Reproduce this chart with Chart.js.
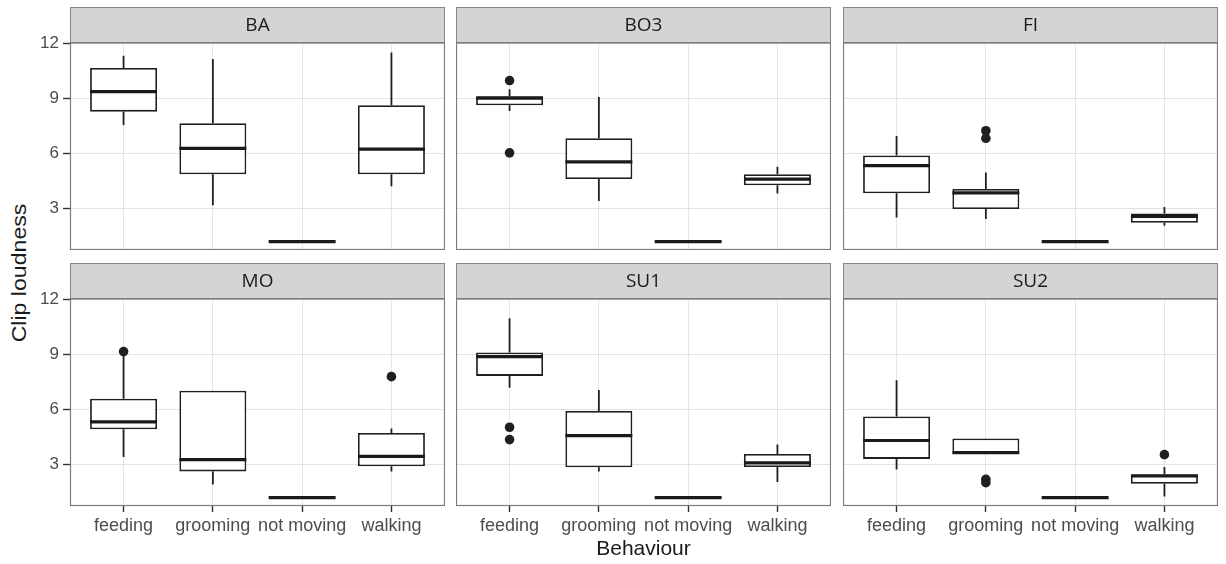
<!DOCTYPE html>
<html>
<head>
<meta charset="utf-8">
<script src="https://cdn.jsdelivr.net/npm/chart.js@4.4.1/dist/chart.umd.min.js"></script>
<style>
html,body{margin:0;padding:0;background:#fff;}
body{width:1226px;height:564px;position:relative;overflow:hidden;font-family:"Liberation Sans",Arial,sans-serif;}
.panel{position:absolute;}
.panel canvas{display:block;}
#ylab{position:absolute;left:19px;top:273px;transform:translate(-50%,-50%) rotate(-90deg) scaleX(1.1);font-size:21px;color:#1a1a1a;white-space:nowrap;}
</style>
</head>
<body>
<div id="ylab">Clip loudness</div>
<div class="panel" id="p0"><canvas id="c0"></canvas></div>
<div class="panel" id="p1"><canvas id="c1"></canvas></div>
<div class="panel" id="p2"><canvas id="c2"></canvas></div>
<div class="panel" id="p3"><canvas id="c3"></canvas></div>
<div class="panel" id="p4"><canvas id="c4"></canvas></div>
<div class="panel" id="p5"><canvas id="c5"></canvas></div>
<script>
// ---------- data ----------
const categories = ['feeding', 'grooming', 'not moving', 'walking'];
const panelNames = ['BA', 'BO3', 'FI', 'MO', 'SU1', 'SU2'];
const yMajorTicks = [3, 6, 9, 12];
const yMinorTicks = [1.5, 4.5, 7.5, 10.5];
const xAxisTitle = 'Behaviour';

// BA
const baLow  = [7.54, 3.18, 1.2, 4.21];
const baQ1   = [8.27, 4.87, 1.2, 4.87];
const baMed  = [9.36, 6.27, 1.2, 6.23];
const baQ3   = [10.64, 7.64, 1.2, 8.62];
const baHigh = [11.31, 11.13, 1.2, 11.49];
const baOut  = [[], [], [], []];
// BO3
const bo3Low  = [8.31, 3.41, 1.2, 3.82];
const bo3Q1   = [8.62, 4.61, 1.2, 4.27];
const bo3Med  = [9.0, 5.54, 1.2, 4.6];
const bo3Q3   = [9.11, 6.82, 1.2, 4.87];
const bo3High = [9.49, 9.07, 1.2, 5.27];
const bo3Out  = [[9.96, 6.03], [], [], []];
// FI
const fiLow  = [2.51, 2.43, 1.2, 2.07];
const fiQ1   = [3.83, 2.98, 1.2, 2.23];
const fiMed  = [5.34, 3.85, 1.2, 2.58];
const fiQ3   = [5.89, 4.07, 1.2, 2.73];
const fiHigh = [6.94, 4.96, 1.2, 3.09];
const fiOut  = [[], [7.23, 6.82], [], []];
// MO
const moLow  = [3.41, 1.92, 1.2, 2.63];
const moQ1   = [4.92, 2.63, 1.2, 2.91];
const moMed  = [5.32, 3.27, 1.2, 3.45];
const moQ3   = [6.58, 7.01, 1.2, 4.72];
const moHigh = [8.9, 7.01, 1.2, 4.96];
const moOut  = [[9.14], [], [], [7.78]];
// SU1
const su1Low  = [7.18, 2.63, 1.2, 2.05];
const su1Q1   = [7.82, 2.86, 1.2, 2.87];
const su1Med  = [8.87, 4.57, 1.2, 3.09];
const su1Q3   = [9.09, 5.91, 1.2, 3.58];
const su1High = [10.96, 7.05, 1.2, 4.09];
const su1Out  = [[5.03, 4.36], [], [], []];
// SU2
const su2Low  = [2.73, 3.6, 1.2, 1.27];
const su2Q1   = [3.31, 3.6, 1.2, 1.96];
const su2Med  = [4.31, 3.65, 1.2, 2.38];
const su2Q3   = [5.62, 4.42, 1.2, 2.47];
const su2High = [7.58, 4.42, 1.2, 2.87];
const su2Out  = [[], [2.2, 2.02], [], [3.54]];

const panelData = [
  {low: baLow,  q1: baQ1,  med: baMed,  q3: baQ3,  high: baHigh,  out: baOut},
  {low: bo3Low, q1: bo3Q1, med: bo3Med, q3: bo3Q3, high: bo3High, out: bo3Out},
  {low: fiLow,  q1: fiQ1,  med: fiMed,  q3: fiQ3,  high: fiHigh,  out: fiOut},
  {low: moLow,  q1: moQ1,  med: moMed,  q3: moQ3,  high: moHigh,  out: moOut},
  {low: su1Low, q1: su1Q1, med: su1Med, q3: su1Q3, high: su1High, out: su1Out},
  {low: su2Low, q1: su2Q1, med: su2Med, q3: su2Q3, high: su2High, out: su2Out}
];

// ---------- layout ----------
const colLeft = [0, 456, 843];
const colWidth = [445, 375, 375];
const yAxisWidth = [70, 0, 0];
const rowTop = [7, 263];
const rowHeight = [243, 301];
const xAxisHeight = [0, 58];

Chart.defaults.font.family = '"Liberation Sans", Arial, sans-serif';
Chart.defaults.devicePixelRatio = 1;

const stripPlugin = {
  id: 'strip',
  beforeDraw(chart) {
    const tb = chart.titleBlock;
    if (!tb) return;
    const ctx = chart.ctx;
    ctx.save();
    ctx.fillStyle = '#d4d4d4';
    ctx.fillRect(tb.left, tb.top, tb.width, tb.height);
    ctx.strokeStyle = '#858585';
    ctx.lineWidth = 1;
    ctx.strokeRect(tb.left + 0.5, tb.top + 0.5, tb.width - 1, tb.height - 1);
    ctx.restore();
  }
};

const boxPlugin = {
  id: 'boxparts',
  beforeDatasetsDraw(chart) {
    const d = chart.config.options.plugins.boxparts.data;
    const meta = chart.getDatasetMeta(0);
    const y = chart.scales.y;
    const ctx = chart.ctx;
    ctx.save();
    ctx.strokeStyle = '#1f1f1f';
    ctx.lineWidth = 1.8;
    meta.data.forEach((el, i) => {
      const x = el.x;
      ctx.beginPath();
      ctx.moveTo(x, y.getPixelForValue(d.low[i]));
      ctx.lineTo(x, y.getPixelForValue(d.q1[i]));
      ctx.moveTo(x, y.getPixelForValue(d.q3[i]));
      ctx.lineTo(x, y.getPixelForValue(d.high[i]));
      ctx.stroke();
    });
    ctx.restore();
  },
  afterDatasetsDraw(chart) {
    const d = chart.config.options.plugins.boxparts.data;
    const meta = chart.getDatasetMeta(0);
    const y = chart.scales.y;
    const ctx = chart.ctx;
    ctx.save();
    ctx.strokeStyle = '#1a1a1a';
    ctx.lineWidth = 3.2;
    meta.data.forEach((el, i) => {
      const yy = y.getPixelForValue(d.med[i]);
      ctx.beginPath();
      ctx.moveTo(el.x - el.width / 2, yy);
      ctx.lineTo(el.x + el.width / 2, yy);
      ctx.stroke();
    });
    ctx.restore();
  },
  afterDraw(chart) {
    const a = chart.chartArea;
    const ctx = chart.ctx;
    ctx.save();
    ctx.strokeStyle = '#7a7a7a';
    ctx.lineWidth = 1.2;
    ctx.strokeRect(a.left + 0.5, a.top, a.right - a.left - 1, a.bottom - a.top - 0.5);
    ctx.restore();
  }
};

panelNames.forEach((name, p) => {
  const row = Math.floor(p / 3), col = p % 3;
  const div = document.getElementById('p' + p);
  div.style.left = colLeft[col] + 'px';
  div.style.top = rowTop[row] + 'px';
  div.style.width = colWidth[col] + 'px';
  div.style.height = rowHeight[row] + 'px';
  const d = panelData[p];
  const showX = row === 1;
  const showY = col === 0;
  const showTitle = row === 1 && col === 1;

  new Chart(document.getElementById('c' + p), {
    type: 'bar',
    data: {
      datasets: [
        {
          type: 'bar',
          data: d.q1.map((v, i) => ({x: i + 1, y: [v, d.q3[i]]})),
          backgroundColor: '#ffffff',
          borderColor: '#1f1f1f',
          borderWidth: 1.8,
          borderSkipped: false,
          barPercentage: 0.75,
          categoryPercentage: 1.0
        },
        {
          type: 'scatter',
          data: d.out.flatMap((arr, i) => arr.map(v => ({x: i + 1, y: v}))),
          pointRadius: 4.8,
          pointBackgroundColor: '#1f1f1f',
          pointBorderWidth: 0,
          showLine: false
        }
      ]
    },
    options: {
      responsive: true,
      maintainAspectRatio: false,
      animation: false,
      events: [],
      layout: {padding: 0, autoPadding: false},
      plugins: {
        legend: {display: false},
        tooltip: {enabled: false},
        title: {
          display: true,
          text: name,
          fullSize: false,
          color: '#1a1a1a',
          font: {family: '"Open Sans", "Noto Sans", sans-serif', size: 19, weight: 'normal', lineHeight: 1.2},
          padding: {top: 7, bottom: 6.2}
        },
        boxparts: {data: d}
      },
      scales: {
        x: {
          type: 'linear',
          min: 0.4,
          max: 4.6,
          offset: false,
          afterBuildTicks: s => { s.ticks = [1, 2, 3, 4].map(v => ({value: v})); },
          afterFit: s => { s.height = xAxisHeight[row]; },
          border: {display: false},
          grid: {
            offset: false,
            color: '#e6e6e6',
            lineWidth: 1,
            drawTicks: showX,
            tickLength: 6,
            tickColor: '#333333',
            tickWidth: 1.4
          },
          ticks: {
            display: showX,
            autoSkip: false,
            maxRotation: 0,
            padding: 3,
            color: '#4d4d4d',
            font: {size: 18},
            callback: v => categories[v - 1] || ''
          },
          title: {
            display: showTitle,
            text: xAxisTitle,
            color: '#1a1a1a',
            font: {size: 21},
            padding: {top: 0, bottom: 2}
          }
        },
        y: {
          type: 'linear',
          min: 0.75,
          max: 12.0,
          afterBuildTicks: s => {
            s.ticks = yMinorTicks.concat(yMajorTicks).sort((a, b) => a - b).map(v => ({value: v}));
          },
          afterFit: s => {
            s.width = yAxisWidth[col];
            s.paddingTop = 0;
            s.paddingBottom = 0;
          },
          border: {display: false},
          grid: {
            color: c => (c.tick && yMajorTicks.includes(c.tick.value)) ? '#e3e3e3' : '#f1f1f1',
            lineWidth: 1,
            drawTicks: showY,
            tickLength: 7,
            tickWidth: 1.4,
            tickColor: c => (c.tick && yMajorTicks.includes(c.tick.value)) ? '#333333' : 'rgba(0,0,0,0)'
          },
          ticks: {
            display: showY,
            autoSkip: false,
            padding: 4,
            color: '#4d4d4d',
            font: {size: 17},
            callback: v => yMajorTicks.includes(v) ? String(v) : null
          }
        }
      }
    },
    plugins: [stripPlugin, boxPlugin]
  });
});
</script>
</body>
</html>
